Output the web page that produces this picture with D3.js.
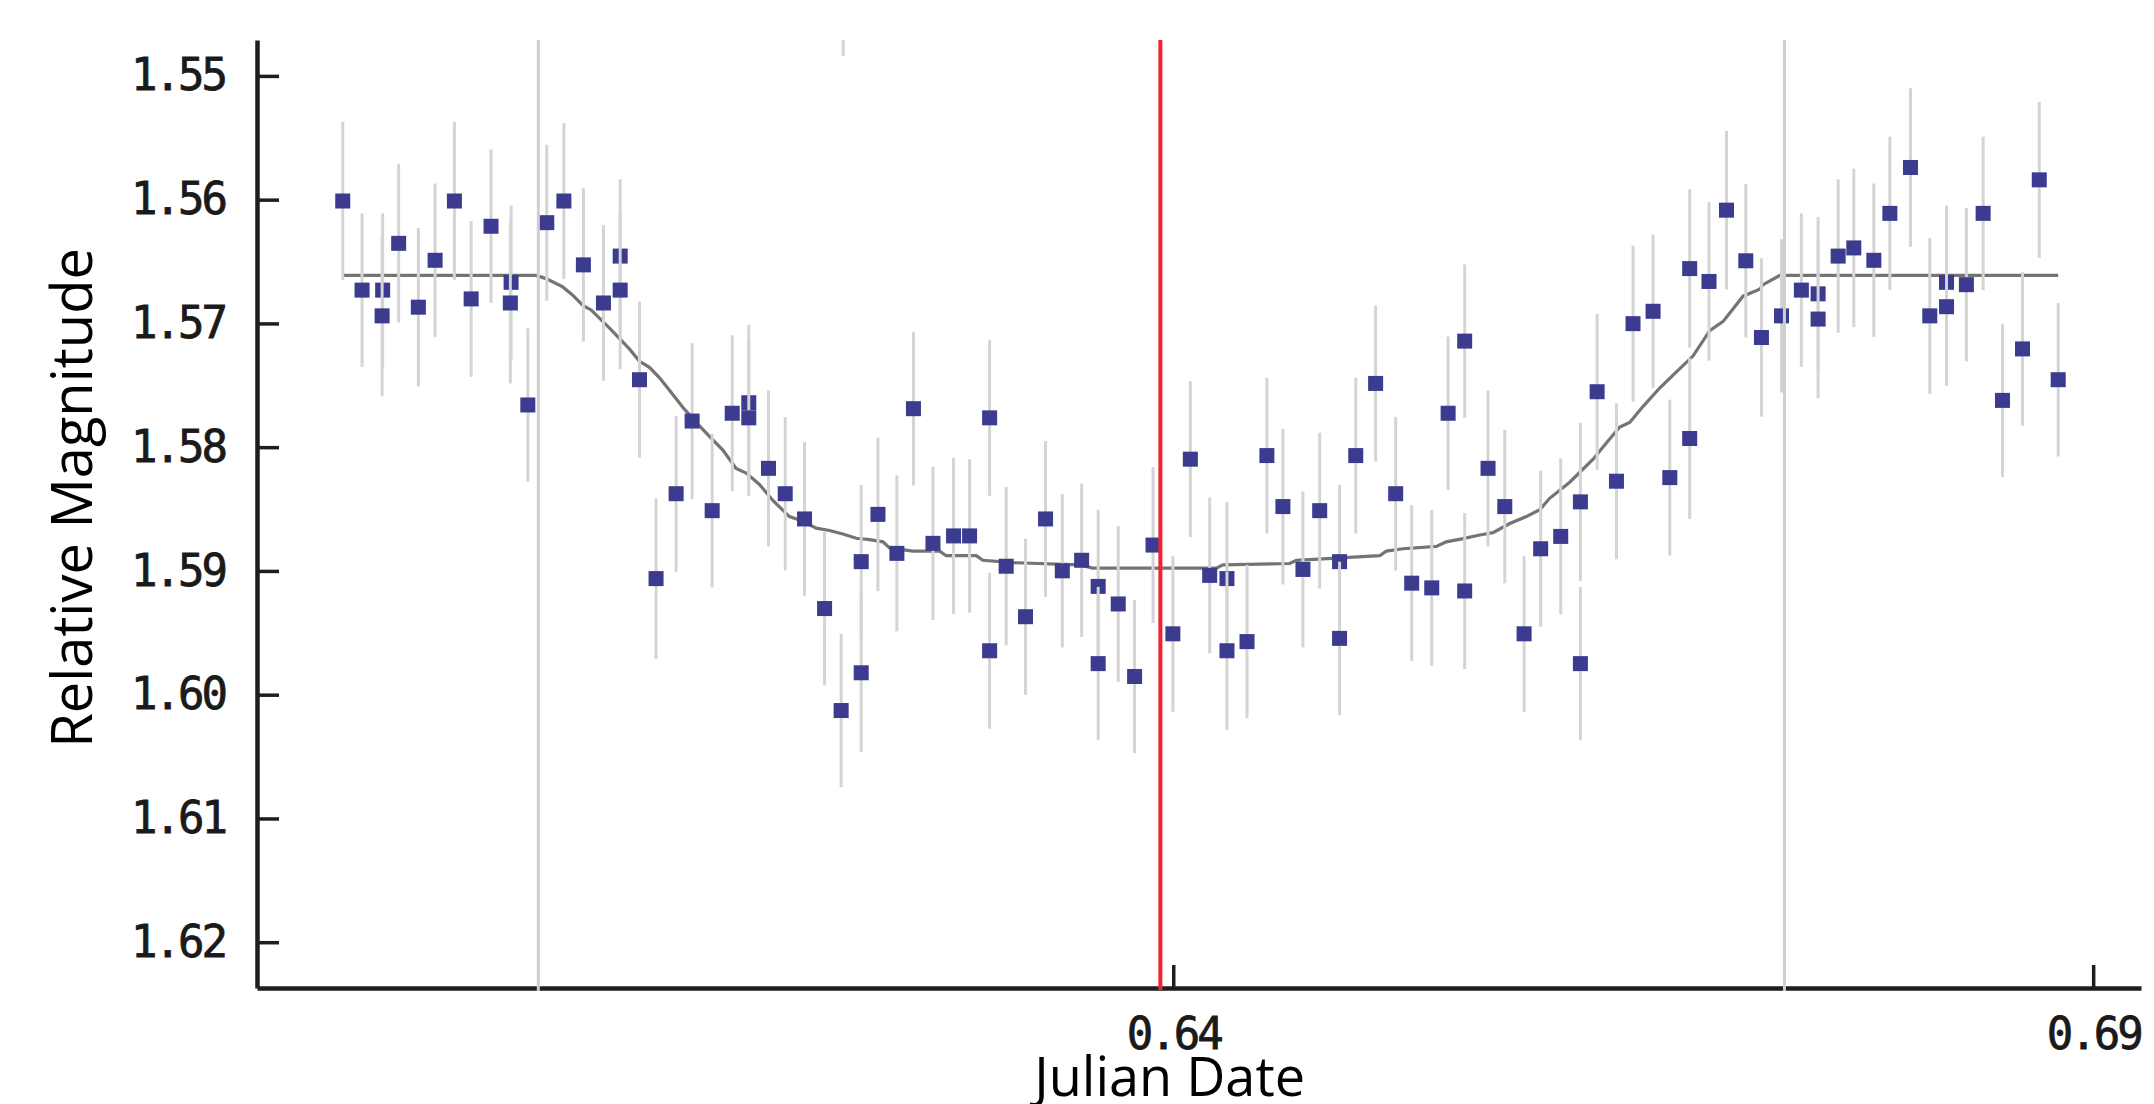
<!DOCTYPE html>
<html>
<head>
<meta charset="utf-8">
<script src="https://cdn.jsdelivr.net/npm/d3@7"></script>
<style>
  html, body { margin: 0; padding: 0; background: #fff; }
  svg { display: block; }
</style>
</head>
<body>
<svg id="chart"></svg>
<script>
// observations (Julian date fraction, relative magnitude, 1-sigma error)
const jd = [
  0.59486, 0.59591, 0.59703, 0.59700, 0.59790, 0.59897, 0.59988, 0.60093, 0.60184, 0.60292,
  0.60401, 0.60397, 0.60492, 0.60595, 0.60688, 0.60794, 0.60903, 0.60994, 0.60994, 0.61099,
  0.61189, 0.61298, 0.61385, 0.61494, 0.61603, 0.61693, 0.61693, 0.61800, 0.61891, 0.61996,
  0.62105, 0.62195, 0.62206, 0.62304, 0.62304, 0.62395, 0.62498, 0.62588, 0.62694, 0.62806,
  0.62893, 0.63002, 0.63002, 0.63092, 0.63197, 0.63306, 0.63397, 0.63502, 0.63592, 0.63592,
  0.63701, 0.63790, 0.63890, 0.63998, 0.64093, 0.64198, 0.64292, 0.64292, 0.64401, 0.64509,
  0.64596, 0.64705, 0.64796, 0.64904, 0.64904, 0.64992, 0.65100, 0.65209, 0.65296, 0.65405,
  0.65494, 0.65584, 0.65584, 0.65711, 0.65802, 0.65907, 0.65997, 0.66106, 0.66213, 0.66213,
  0.66304, 0.66409, 0.66499, 0.66608, 0.66699, 0.66807, 0.66807, 0.66912, 0.67007, 0.67112,
  0.67197, 0.67306, 0.67414, 0.67505, 0.67505, 0.67614, 0.67699, 0.67808, 0.67895, 0.68007,
  0.68112, 0.68203, 0.68203, 0.68311, 0.68402, 0.68507, 0.68616, 0.68707, 0.68810
];
const mag = [
  1.56011, 1.56731, 1.56731, 1.56939, 1.56353, 1.56869, 1.56490, 1.56011, 1.56802, 1.56215,
  1.56668, 1.56835, 1.57659, 1.56186, 1.56011, 1.56527, 1.56835, 1.56456, 1.56731, 1.57455,
  1.59062, 1.58376, 1.57789, 1.58513, 1.57726, 1.57641, 1.57763, 1.58171, 1.58376, 1.58580,
  1.59304, 1.60128, 1.54220, 1.58925, 1.59823, 1.58543, 1.58858, 1.57689, 1.58777, 1.58717,
  1.58717, 1.57763, 1.59645, 1.58962, 1.59370, 1.58580, 1.58999, 1.58914, 1.59125, 1.59749,
  1.59267, 1.59853, 1.58791, 1.59508, 1.58097, 1.59036, 1.59062, 1.59645, 1.59571, 1.58068,
  1.58480, 1.58988, 1.58513, 1.58925, 1.59545, 1.58068, 1.57485, 1.58376, 1.59099, 1.59137,
  1.57726, 1.57143, 1.59162, 1.58171, 1.58480, 1.59508, 1.58821, 1.58721, 1.58442, 1.59749,
  1.57552, 1.58275, 1.57002, 1.56902, 1.58246, 1.56557, 1.57930, 1.56661, 1.56085, 1.56494,
  1.57114, 1.56939, 1.56731, 1.56761, 1.56965, 1.56456, 1.56390, 1.56490, 1.56111, 1.55740,
  1.56939, 1.56668, 1.56865, 1.56687, 1.56111, 1.57622, 1.57206, 1.55840, 1.57455
];
const magErr = [
  0.0064, 0.0062, 0.0062, 0.0065, 0.0064, 0.0064, 0.0062, 0.0064, 0.0063, 0.0062,
  0.0062, 0.0065, 0.0062, 0.0063, 0.0063, 0.0062, 0.0063, 0.0062, 0.0064, 0.0063,
  0.0065, 0.0063, 0.0063, 0.0062, 0.0063, 0.0063, 0.0063, 0.0063, 0.0062, 0.0062,
  0.0062, 0.0062, 0.0062, 0.0062, 0.0064, 0.0062, 0.0063, 0.0062, 0.0062, 0.0063,
  0.0062, 0.0063, 0.0063, 0.0064, 0.0063, 0.0063, 0.0062, 0.0062, 0.0062, 0.0062,
  0.0063, 0.0062, 0.0063, 0.0063, 0.0063, 0.0063, 0.0062, 0.0064, 0.0062, 0.0063,
  0.0063, 0.0063, 0.0063, 0.0062, 0.0062, 0.0063, 0.0063, 0.0062, 0.0063, 0.0063,
  0.0062, 0.0062, 0.0063, 0.0063, 0.0062, 0.0063, 0.0063, 0.0063, 0.0064, 0.0062,
  0.0063, 0.0063, 0.0063, 0.0062, 0.0063, 0.0064, 0.0065, 0.0064, 0.0064, 0.0062,
  0.0064, 0.0062, 0.0062, 0.0062, 0.0064, 0.0062, 0.0064, 0.0062, 0.0062, 0.0064,
  0.0063, 0.0062, 0.0064, 0.0062, 0.0062, 0.0062, 0.0062, 0.0063, 0.0062
];

// transit model curve
const modelJd = [
  0.59486, 0.60537, 0.60591, 0.60682, 0.60736, 0.60791, 0.60836, 0.60936, 0.61044, 0.61099,
  0.61153, 0.61208, 0.61262, 0.61334, 0.61407, 0.61479, 0.61552, 0.61624, 0.61679, 0.61751,
  0.61824, 0.61914, 0.61987, 0.62059, 0.62132, 0.62204, 0.62277, 0.62349, 0.62422, 0.62458,
  0.62585, 0.62730, 0.62766, 0.62929, 0.62965, 0.63128, 0.63491, 0.63563, 0.64035, 0.64234,
  0.64270, 0.64633, 0.64669, 0.65122, 0.65158, 0.65249, 0.65430, 0.65484, 0.65575, 0.65666,
  0.65738, 0.65829, 0.65919, 0.65992, 0.66046, 0.66155, 0.66282, 0.66354, 0.66427, 0.66481,
  0.66554, 0.66644, 0.66735, 0.66826, 0.66916, 0.66989, 0.67097, 0.67188, 0.67206, 0.67297,
  0.68810
];
const modelMag = [
  1.56612, 1.56612, 1.56638, 1.56705, 1.56772, 1.56854, 1.56891, 1.57039, 1.57206, 1.57306,
  1.57355, 1.57440, 1.57540, 1.57678, 1.57800, 1.57912, 1.58023, 1.58172, 1.58209, 1.58301,
  1.58431, 1.58561, 1.58598, 1.58654, 1.58673, 1.58702, 1.58736, 1.58747, 1.58765, 1.58814,
  1.58840, 1.58840, 1.58877, 1.58877, 1.58914, 1.58933, 1.58951, 1.58977, 1.58977, 1.58977,
  1.58951, 1.58940, 1.58914, 1.58877, 1.58840, 1.58821, 1.58802, 1.58765, 1.58739, 1.58710,
  1.58691, 1.58617, 1.58561, 1.58506, 1.58413, 1.58283, 1.58097, 1.57967, 1.57837, 1.57800,
  1.57670, 1.57522, 1.57392, 1.57262, 1.57058, 1.56984, 1.56780, 1.56724, 1.56687, 1.56612,
  1.56612
];

const yTicks = [1.55, 1.56, 1.57, 1.58, 1.59, 1.60, 1.61, 1.62];
const xTicks = [0.64, 0.69];
const contactJd = [0.60549, 0.67322];   // ingress / egress markers
const midJd = 0.6393;                   // mid transit

const width = 2154, height = 1104;
const margin = { top: 40, right: 13, bottom: 116, left: 257 };
const chartWidth = width - margin.left - margin.right;
const chartHeight = height - margin.top - margin.bottom;

const svg = d3.select("#chart")
  .attr("width", width)
  .attr("height", height)
  .attr("viewBox", `0 0 ${width} ${height}`);

const g = svg.append("g")
  .attr("transform", `translate(${margin.left},${margin.top})`);

const x = d3.scaleLinear()
  .domain([0.5902, 0.6926])
  .range([0, chartWidth]);

// magnitude axis runs downward
const y = d3.scaleLinear()
  .domain([1.5471, 1.6237])
  .range([0, chartHeight]);

g.append("clipPath")
  .attr("id", "plot-clip")
  .append("rect")
  .attr("width", chartWidth)
  .attr("height", chartHeight);

// axes
const tickFont = "'DejaVu Sans Mono', monospace";

const yAxis = g.append("g")
  .call(d3.axisLeft(y)
    .tickValues(yTicks)
    .tickSize(-22)
    .tickSizeOuter(0)
    .tickPadding(32)
    .tickFormat(d3.format(".2f")));

const xAxis = g.append("g")
  .attr("transform", `translate(0,${chartHeight})`)
  .call(d3.axisBottom(x)
    .tickValues(xTicks)
    .tickSize(-23)
    .tickSizeOuter(0)
    .tickPadding(30)
    .tickFormat(d3.format(".2f")));

[yAxis, xAxis].forEach(ax => {
  ax.select(".domain").attr("stroke", "#1e1e1e").attr("stroke-width", 4.5);
  ax.selectAll(".tick line").attr("stroke", "#1e1e1e").attr("stroke-width", 3.5);
  ax.selectAll(".tick text")
    .attr("fill", "#1a1a1a")
    .attr("stroke", "#1a1a1a")
    .attr("stroke-width", 0.8)
    .style("font-family", tickFont)
    .style("font-size", "44px")
    .style("letter-spacing", "-3px");
});

const plot = g.append("g").attr("clip-path", "url(#plot-clip)");

// model curve
const model = modelJd.map((d, i) => ({ x: d, y: modelMag[i] }));
plot.append("path")
  .datum(model)
  .attr("fill", "none")
  .attr("stroke", "#747474")
  .attr("stroke-width", 3.2)
  .attr("d", d3.line().x(d => x(d.x)).y(d => y(d.y)));

// points with error bars, drawn one after another
const data = jd.map((d, i) => ({ x: d, y: mag[i], e: magErr[i] }));
const pts = plot.selectAll(".pt")
  .data(data)
  .join("g")
  .attr("class", "pt");

pts.append("line")
  .attr("x1", d => x(d.x))
  .attr("x2", d => x(d.x))
  .attr("y1", d => y(d.y - d.e))
  .attr("y2", d => y(d.y + d.e))
  .attr("stroke", "#d4d4d4")
  .attr("stroke-width", 3);

const sq = 15;
pts.append("rect")
  .attr("x", d => x(d.x) - sq / 2)
  .attr("y", d => y(d.y) - sq / 2)
  .attr("width", sq)
  .attr("height", sq)
  .attr("fill", "#3b3b8f");

// ingress / egress markers
g.selectAll(".contact")
  .data(contactJd)
  .join("line")
  .attr("class", "contact")
  .attr("x1", d => x(d))
  .attr("x2", d => x(d))
  .attr("y1", 0)
  .attr("y2", chartHeight + 3)
  .attr("stroke", "#cfcfcf")
  .attr("stroke-width", 3);

// mid transit
g.append("line")
  .attr("x1", x(midJd))
  .attr("x2", x(midJd))
  .attr("y1", 0)
  .attr("y2", chartHeight + 2)
  .attr("stroke", "#f5222d")
  .attr("stroke-width", 4);

// axis titles
svg.append("text")
  .attr("x", margin.left + x(0.6398))
  .attr("y", 1096)
  .attr("text-anchor", "middle")
  .style("font-family", "'Open Sans', sans-serif")
  .style("font-size", "54px")
  .attr("fill", "#000")
  .text("Julian Date");

svg.append("text")
  .attr("transform", "translate(92,498) rotate(-90)")
  .attr("text-anchor", "middle")
  .style("font-family", "'Open Sans', sans-serif")
  .style("font-size", "56px")
  .attr("fill", "#000")
  .text("Relative Magnitude");
</script>
</body>
</html>
